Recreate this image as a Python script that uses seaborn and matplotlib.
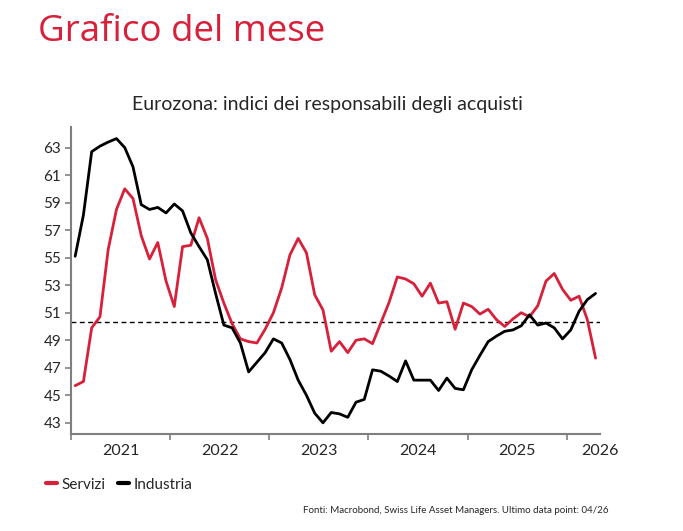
import matplotlib
matplotlib.use("Agg")
import numpy as np
import pandas as pd
import matplotlib.pyplot as plt
import seaborn as sns

# monthly PMI, Jan 2021 - Apr 2026
months = pd.date_range("2021-01-01", periods=64, freq="MS")
servizi = [45.7, 46.0, 49.9, 50.7, 55.6, 58.5, 60.0, 59.3, 56.6, 54.9, 56.1, 53.3,
           51.45, 55.8, 55.9, 57.9, 56.4, 53.4, 51.7, 50.2, 49.1, 48.9, 48.8, 49.8,
           51.0, 52.8, 55.2, 56.4, 55.35, 52.3, 51.2, 48.2, 48.9, 48.1, 49.0, 49.1,
           48.75, 50.25, 51.75, 53.6, 53.45, 53.1, 52.2, 53.15, 51.7, 51.8, 49.8, 51.7,
           51.45, 50.9, 51.25, 50.5, 50.0, 50.55, 51.0, 50.7, 51.5, 53.3, 53.85, 52.7,
           51.9, 52.2, 50.5, 47.7]
industria = [55.1, 58.1, 62.7, 63.1, 63.4, 63.65, 63.0, 61.6, 58.85, 58.5, 58.65, 58.25,
             58.9, 58.4, 56.8, 55.8, 54.85, 52.4, 50.1, 49.9, 48.8, 46.7, 47.4, 48.1,
             49.1, 48.8, 47.6, 46.1, 45.0, 43.7, 43.0, 43.75, 43.65, 43.4, 44.5, 44.7,
             46.85, 46.75, 46.4, 46.0, 47.5, 46.1, 46.1, 46.1, 45.35, 46.25, 45.5, 45.4,
             46.85, 47.9, 48.9, 49.3, 49.65, 49.75, 50.05, 50.85, 50.1, 50.25, 49.9, 49.1,
             49.75, 51.1, 51.95, 52.4]
soglia = 50.3
year_labels = ["2021", "2022", "2023", "2024", "2025", "2026"]
y_ticks = [43, 45, 47, 49, 51, 53, 55, 57, 59, 61, 63]

red = "#D7203A"

# decimal year at mid-month
xpos = months.year + (months.month - 0.5) / 12
df = pd.DataFrame({"x": np.concatenate([xpos, xpos]),
                   "valore": servizi + industria,
                   "serie": ["Servizi"] * 64 + ["Industria"] * 64})

sns.set_style("ticks")
plt.rcParams["font.family"] = ["Lato", "DejaVu Sans"]

fig = plt.figure(figsize=(6.83, 5.31), dpi=100)
ax = fig.add_axes([0.104, 0.183, 0.775, 0.578])

sns.lineplot(data=df, x="x", y="valore", hue="serie",
             palette={"Servizi": red, "Industria": "black"},
             linewidth=2.0, legend=False, ax=ax)
ax.axhline(soglia, color="black", lw=1.0, ls=(0, (3.5, 2.5)), zorder=1)

ax.set_xlim(2021.0, 2026.34)
ax.set_ylim(42.2, 64.5)
ax.set_yticks(y_ticks)
ax.set_yticklabels([str(v) for v in y_ticks], fontsize=11)
ax.set_xticks([2021, 2022, 2023, 2024, 2025, 2026])
ax.set_xticklabels([])
ax.set_xticks([2021.5, 2022.5, 2023.5, 2024.5, 2025.5, 2026.34], minor=True)
ax.set_xticklabels(year_labels, minor=True, fontsize=11.5)
ax.tick_params(axis="x", which="major", length=4, width=1.2, color="#7f7f7f", direction="out")
ax.tick_params(axis="x", which="minor", length=0, pad=7)
ax.tick_params(axis="y", length=4, width=1.2, color="#7f7f7f", pad=3)
ax.set_xlabel("")
ax.set_ylabel("")
for s in ["top", "right"]:
    ax.spines[s].set_visible(False)
for s in ["left", "bottom"]:
    ax.spines[s].set_color("#7f7f7f")
    ax.spines[s].set_linewidth(1.5)

fig.text(0.055, 0.922, "Grafico del mese", color=red, fontsize=26.5,
         family=["Open Sans", "DejaVu Sans"])
fig.text(0.4795, 0.793, "Eurozona: indici dei responsabili degli acquisti",
         ha="center", fontsize=14)

handles = [plt.Line2D([], [], color=red, lw=3), plt.Line2D([], [], color="black", lw=3)]
fig.legend(handles, ["Servizi", "Industria"], loc="lower left",
           bbox_to_anchor=(0.068, 0.074), ncol=2, frameon=False, fontsize=11,
           handlelength=0.7, handletextpad=0.3, columnspacing=0.8,
           borderaxespad=0, borderpad=0)
fig.text(0.443, 0.034, "Fonti: Macrobond, Swiss Life Asset Managers. Ultimo data point: 04/26",
         fontsize=7.05)

fig.savefig("out.png", dpi=100)
